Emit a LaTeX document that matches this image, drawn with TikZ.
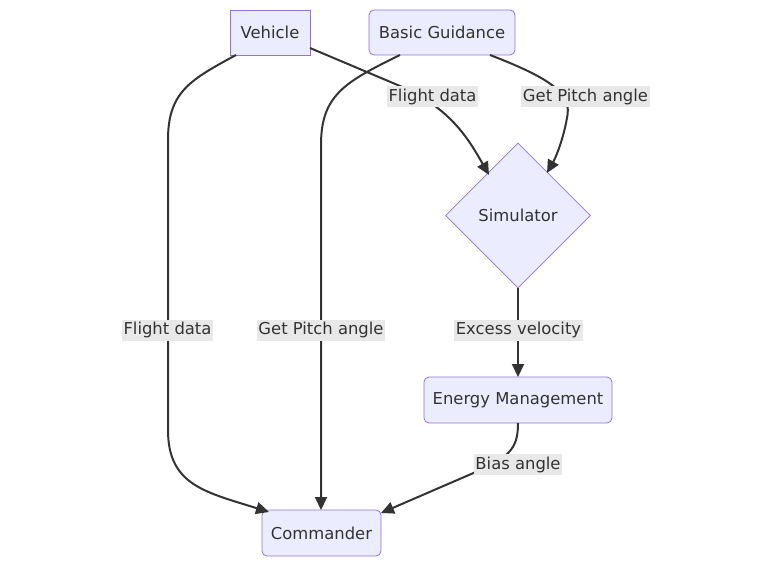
\documentclass[tikz,border=0pt]{standalone}
\usepackage{fontspec}
\setmainfont{DejaVu Sans}
\usetikzlibrary{shapes.geometric,arrows.meta}
\definecolor{nodefill}{HTML}{ECECFF}
\definecolor{nodeline}{HTML}{9370DB}
\definecolor{edgecol}{HTML}{333333}
\definecolor{lblbg}{HTML}{E8E8E8}
\tikzset{
  box/.style={draw=nodeline, fill=nodefill, line width=0.8pt, inner sep=0pt, text=edgecol, font=\fontsize{16.4}{18}\selectfont},
  rbox/.style={box, rounded corners=5pt},
  lbl/.style={fill=lblbg, inner sep=1.5pt, text=edgecol, font=\fontsize{16.4}{18}\selectfont, minimum height=21pt},
  edge/.style={draw=edgecol, line width=2pt, -{Triangle[length=13pt,width=12pt]}},
}
\begin{document}
\begin{tikzpicture}[x=1pt,y=-1pt]
\useasboundingbox (0,0) rectangle (773,567);
% nodes
\node[box, minimum width=80pt, minimum height=45pt] (veh) at (270,32.5) {Vehicle};
\node[rbox, minimum width=146pt, minimum height=45pt] (bg) at (442,32.5) {Basic Guidance};
\node[box, diamond, minimum width=145pt, minimum height=145pt] (sim) at (518,215.5) {Simulator};
\node[rbox, minimum width=188pt, minimum height=46pt] (em) at (518,400) {Energy Management};
\node[rbox, minimum width=119pt, minimum height=46pt] (cmd) at (321.5,533) {Commander};
% coordinates of edge endpoints
\coordinate (v1) at (310,48);
\coordinate (v2) at (236,55);
\coordinate (b1) at (490,55);
\coordinate (b2) at (400,55);
\coordinate (s1) at (489,175);
\coordinate (s2) at (547,173);
\coordinate (sb) at (518,288);
\coordinate (et) at (518,377);
\coordinate (eb) at (518,423);
\coordinate (c1) at (269,512);
\coordinate (c2) at (321,510);
\coordinate (c3) at (381,513);
% edges
\draw[edge] (v1) -- (400,86) .. controls (450,108) and (468,138) .. (s1);
\draw[edge] (b1) .. controls (555,80) and (572,95) .. (567,118) .. controls (563,140) and (556,157) .. (s2);
\draw[edge] (v2) .. controls (190,80) and (168,92) .. (168,140) -- (168,430) .. controls (168,485) and (205,492) .. (c1);
\draw[edge] (b2) .. controls (345,82) and (321,95) .. (321,145) -- (c2);
\draw[edge] (sb) -- (et);
\draw[edge] (eb) .. controls (518,445) and (512,455) .. (485,468) -- (c3);
% labels
\node[lbl] (l1) at (432.5,96.5) {Flight data};
\node[lbl] (l2) at (585.5,96.5) {Get Pitch angle};
\node[lbl] (l3) at (167.5,330) {Flight data};
\node[lbl] (l4) at (321,330) {Get Pitch angle};
\node[lbl] (l5) at (518.5,330) {Excess velocity};
\node[lbl] (l6) at (518,464.5) {Bias angle};
\end{tikzpicture}
\end{document}
